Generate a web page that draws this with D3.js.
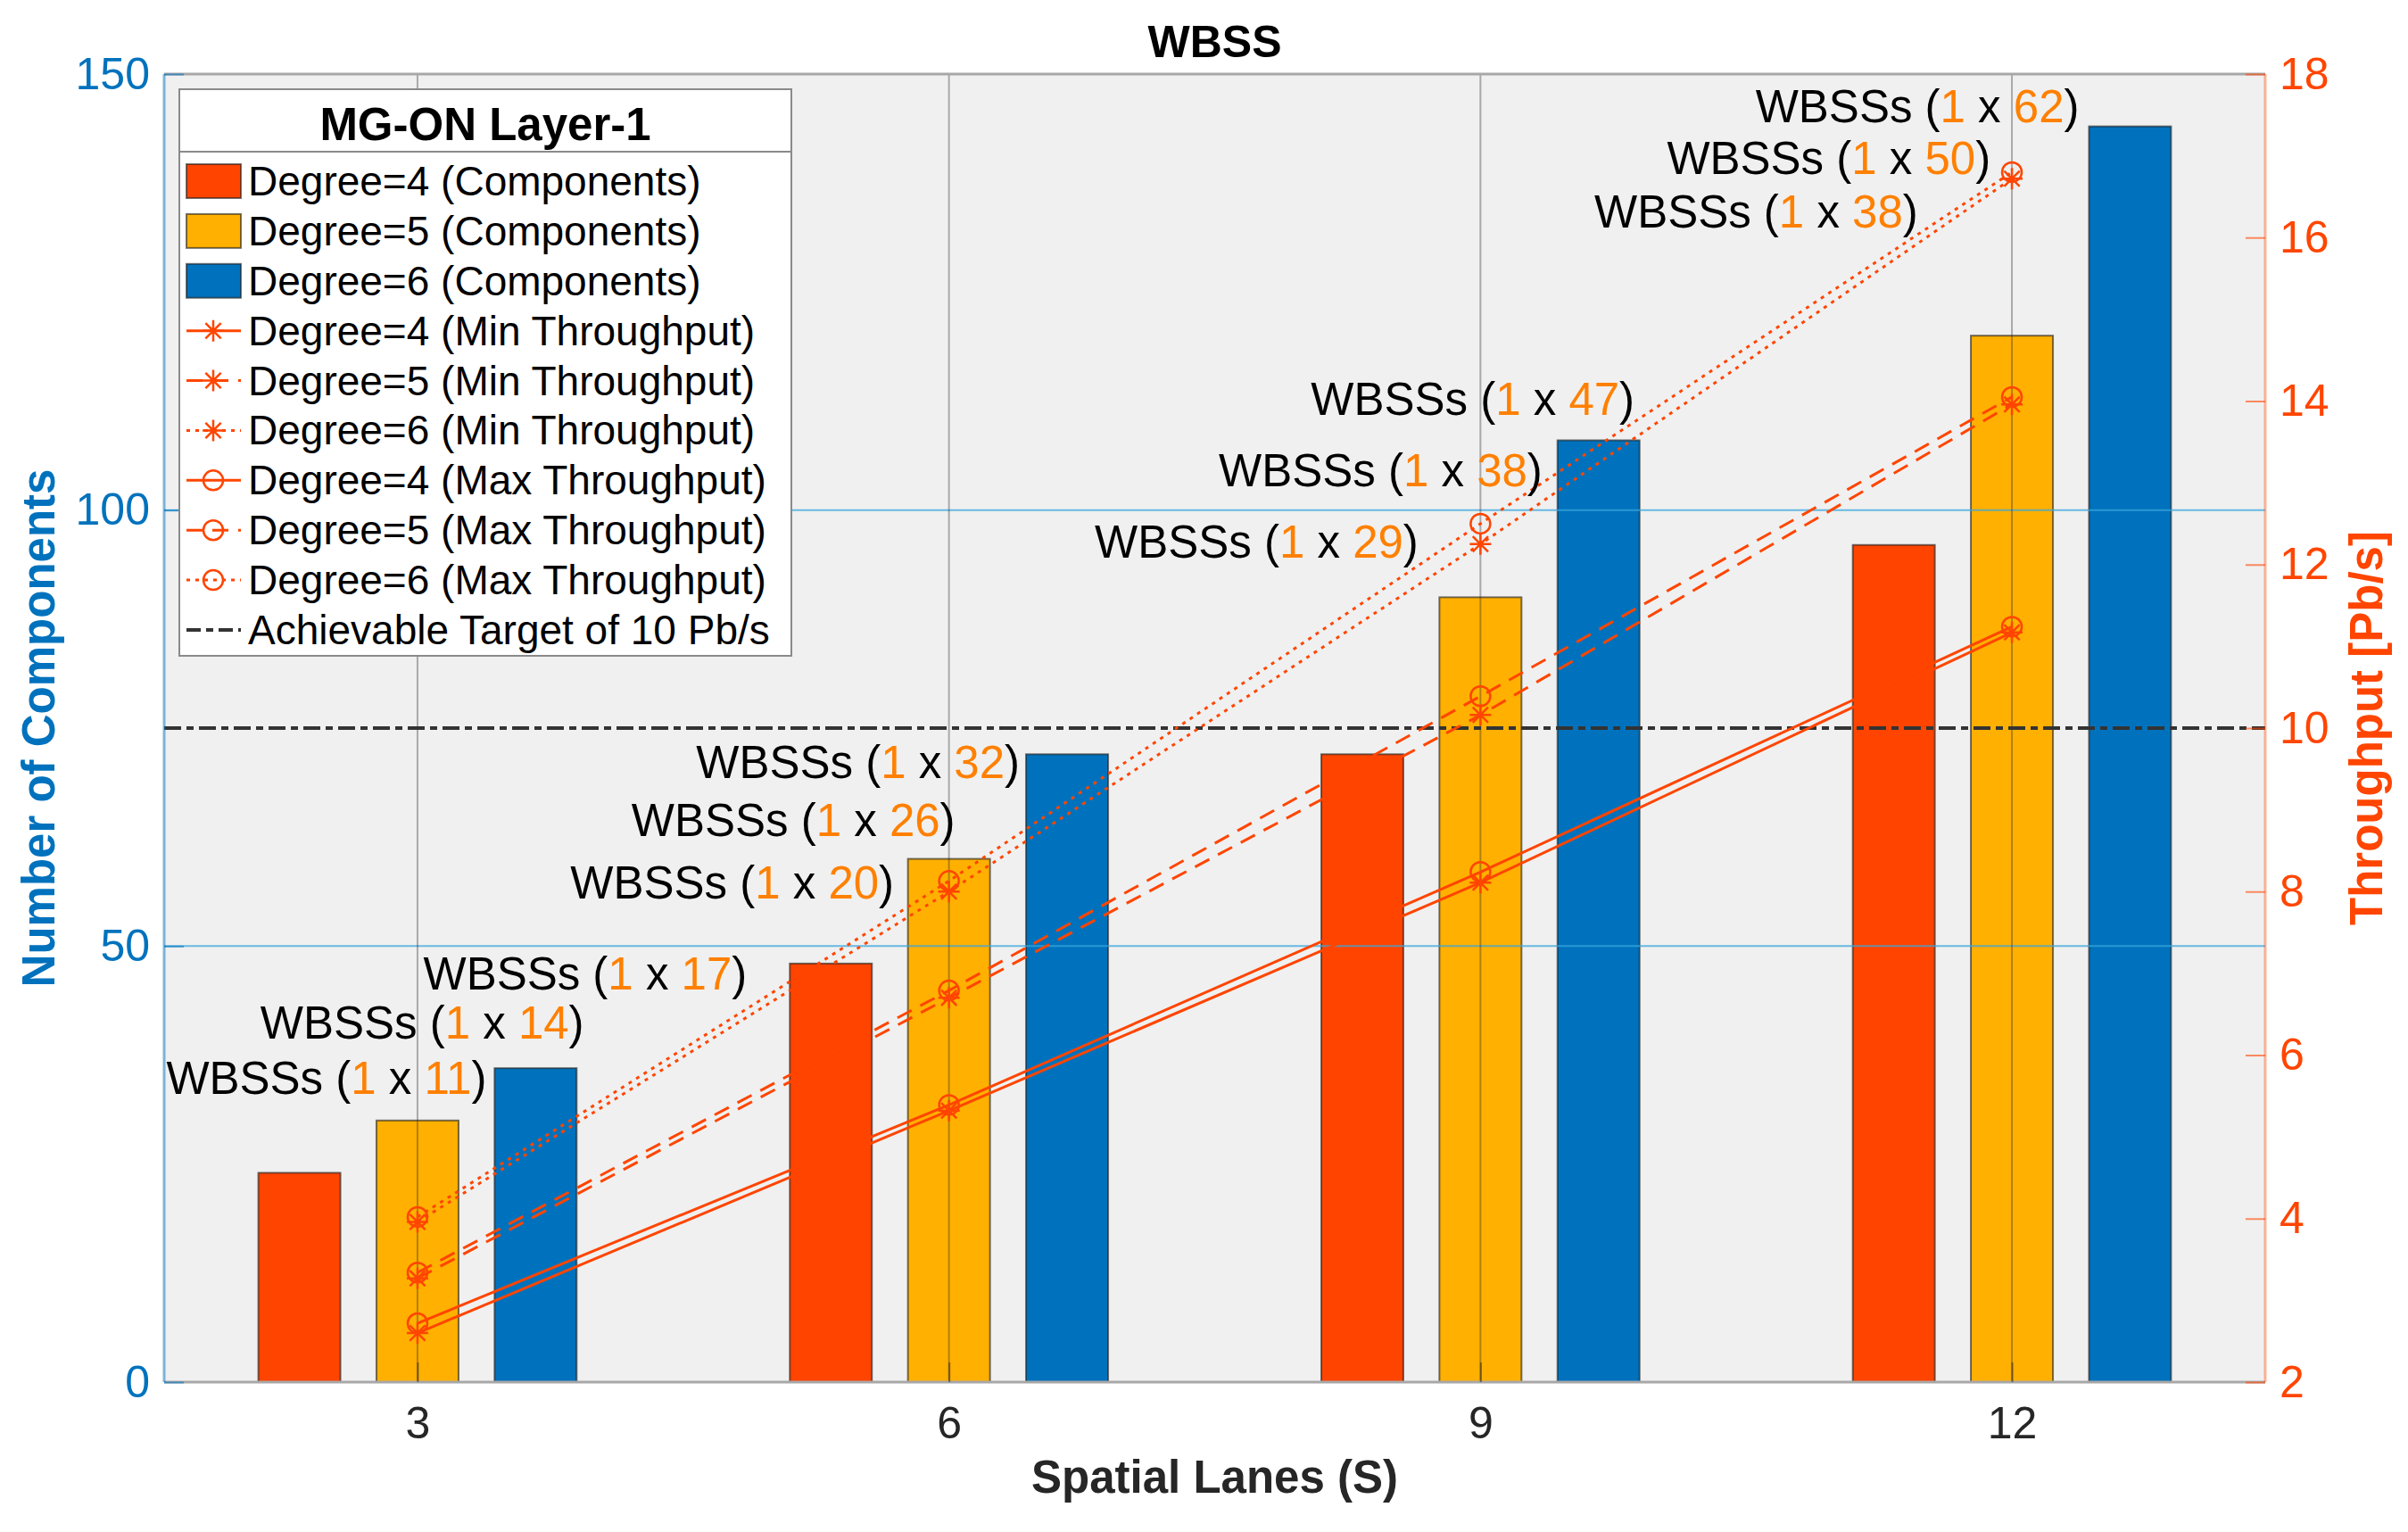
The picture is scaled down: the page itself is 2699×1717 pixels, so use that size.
<!DOCTYPE html>
<html>
<head>
<meta charset="utf-8">
<script src="https://cdn.jsdelivr.net/npm/d3@7"></script>
<style>
  body { margin: 0; background: #fff; }
  text { font-family: "Liberation Sans", Arial, Helvetica, sans-serif; }
</style>
</head>
<body>
<div id="chart"></div>
<script>
// ---- data ----
const lanes = [3, 6, 9, 12]
const degrees = [4, 5, 6]

// number of components (left axis)
const compDeg4 = [24, 48, 72, 96]
const compDeg5 = [30, 60, 90, 120]
const compDeg6 = [36, 72, 108, 144]

// throughput in Pb/s (right axis)
const minTpDeg4 = [2.60, 5.32, 8.11, 11.17]
const minTpDeg5 = [3.27, 6.70, 10.16, 13.96]
const minTpDeg6 = [3.96, 8.00, 12.25, 16.72]
const maxTpDeg4 = [2.72, 5.39, 8.24, 11.24]
const maxTpDeg5 = [3.34, 6.79, 10.39, 14.05]
const maxTpDeg6 = [4.02, 8.13, 12.50, 16.80]

const target = 10

// WBSS counts shown in the text notes (1 x n)
const wbssDeg4 = [11, 20, 29, 38]
const wbssDeg5 = [14, 26, 38, 50]
const wbssDeg6 = [17, 32, 47, 62]

const leftTicks = [0, 50, 100, 150]
const rightTicks = [2, 4, 6, 8, 10, 12, 14, 16, 18]

// where each note sits (right end, baseline) in data units: [lane units, components]
const noteAt = [
  [[3.39, 33.0], [5.69, 55.5], [8.65, 94.5], [11.47, 132.4]],
  [[3.94, 39.4], [6.035, 62.6], [9.35, 102.7], [11.88, 138.5]],
  [[4.86, 45.0], [6.40, 69.3], [9.87, 110.9], [12.38, 144.5]]
]

const params = {
  width: 2699,
  height: 1717,
  left: 184,
  right: 2539,
  top: 83,
  bottom: 1549,
}

const colors = { 4: '#FF4400', 5: '#FFB000', 6: '#0072BD' }
const lineColor = '#FF4500'
const noteColor = '#FF8000'
const leftColor = '#0072BD'
const rightColor = '#FF4500'
const dashes = { 4: null, 5: '18,11', 6: '4,6' }

const svg = d3.select('#chart')
  .append('svg')
  .attr('width', params.width)
  .attr('height', params.height)

// scales
const x = d3.scaleLinear().domain([1.57, 13.43]).range([params.left, params.right])
const yL = d3.scaleLinear().domain([0, 150]).range([params.bottom, params.top])
const yR = d3.scaleLinear().domain([2, 18]).range([params.bottom, params.top])
const xSub = d3.scaleBand().domain(degrees).range([-1, 1]).paddingInner(0.305).paddingOuter(0.1525)

// plot background
svg.append('rect')
  .attr('x', params.left)
  .attr('y', params.top)
  .attr('width', params.right - params.left)
  .attr('height', params.bottom - params.top)
  .attr('fill', '#f0f0f0')

// bars
const comps = { 4: compDeg4, 5: compDeg5, 6: compDeg6 }
const barW = x(xSub.bandwidth()) - x(0)
degrees.forEach(d => {
  svg.append('g').selectAll('rect')
    .data(comps[d])
    .enter()
    .append('rect')
    .attr('x', (v, i) => x(lanes[i] + xSub(d)))
    .attr('y', v => yL(v))
    .attr('width', barW)
    .attr('height', v => yL(0) - yL(v))
    .attr('fill', colors[d])
    .attr('stroke', '#1a1a1a')
    .attr('stroke-opacity', 0.6)
    .attr('stroke-width', 2)
})

// grid (drawn above the bars)
const grid = svg.append('g')
grid.selectAll('.hg')
  .data(leftTicks.slice(1, -1))
  .enter()
  .append('line')
  .attr('x1', params.left).attr('x2', params.right)
  .attr('y1', d => yL(d)).attr('y2', d => yL(d))
  .attr('stroke', '#3aa6dc')
  .attr('stroke-opacity', 0.75)
  .attr('stroke-width', 2)
grid.selectAll('.vg')
  .data(lanes)
  .enter()
  .append('line')
  .attr('x1', d => x(d)).attr('x2', d => x(d))
  .attr('y1', params.top).attr('y2', params.bottom)
  .attr('stroke', '#262626')
  .attr('stroke-opacity', 0.35)
  .attr('stroke-width', 2)

// achievable target line
svg.append('line')
  .attr('x1', params.left).attr('x2', params.right)
  .attr('y1', yR(target)).attr('y2', yR(target))
  .attr('stroke', '#333')
  .attr('stroke-width', 4)
  .attr('stroke-dasharray', '19,6,8,6')

// throughput lines
const tpSeries = [
  { deg: 4, kind: 'min', vals: minTpDeg4 },
  { deg: 5, kind: 'min', vals: minTpDeg5 },
  { deg: 6, kind: 'min', vals: minTpDeg6 },
  { deg: 4, kind: 'max', vals: maxTpDeg4 },
  { deg: 5, kind: 'max', vals: maxTpDeg5 },
  { deg: 6, kind: 'max', vals: maxTpDeg6 },
]

const line = d3.line().x((d, i) => x(lanes[i])).y(d => yR(d))

function asterisk(s) {
  const a = s * 0.72
  return `M0,${-s}V${s}M${-s},0H${s}M${-a},${-a}L${a},${a}M${-a},${a}L${a},${-a}`
}

function drawMarker(g, kind, cx, cy) {
  if (kind === 'min') {
    g.append('path')
      .attr('d', asterisk(12))
      .attr('transform', `translate(${cx},${cy})`)
      .attr('stroke', lineColor)
      .attr('stroke-width', 2.5)
      .attr('fill', 'none')
  } else {
    g.append('circle')
      .attr('cx', cx).attr('cy', cy).attr('r', 11)
      .attr('stroke', lineColor)
      .attr('stroke-width', 2.5)
      .attr('fill', 'none')
  }
}

const lines = svg.append('g')
tpSeries.forEach(s => {
  lines.append('path')
    .attr('d', line(s.vals))
    .attr('fill', 'none')
    .attr('stroke', lineColor)
    .attr('stroke-width', 3)
    .attr('stroke-dasharray', dashes[s.deg])
  s.vals.forEach((v, i) => drawMarker(lines, s.kind, x(lanes[i]), yR(v)))
})

// notes "WBSSs (1 x n)"
const wbss = [wbssDeg4, wbssDeg5, wbssDeg6]
const notes = svg.append('g')
wbss.forEach((arr, k) => {
  arr.forEach((n, i) => {
    const [nx, ny] = noteAt[k][i]
    const t = notes.append('text')
      .attr('x', x(nx))
      .attr('y', yL(ny))
      .attr('text-anchor', 'end')
      .attr('font-size', 51)
      .attr('fill', '#000')
    t.append('tspan').text('WBSSs (')
    t.append('tspan').attr('fill', noteColor).text('1')
    t.append('tspan').text(' x ')
    t.append('tspan').attr('fill', noteColor).text(n)
    t.append('tspan').text(')')
  })
})

// axes box
svg.append('line')
  .attr('x1', params.left).attr('x2', params.right)
  .attr('y1', params.top).attr('y2', params.top)
  .attr('stroke', '#a8a8a8').attr('stroke-width', 3)
svg.append('line')
  .attr('x1', params.left).attr('x2', params.right)
  .attr('y1', params.bottom).attr('y2', params.bottom)
  .attr('stroke', '#a8a8a8').attr('stroke-width', 3)
svg.append('line')
  .attr('x1', params.left).attr('x2', params.left)
  .attr('y1', params.top).attr('y2', params.bottom)
  .attr('stroke', leftColor).attr('stroke-opacity', 0.5).attr('stroke-width', 3)
svg.append('line')
  .attr('x1', params.right).attr('x2', params.right)
  .attr('y1', params.top).attr('y2', params.bottom)
  .attr('stroke', rightColor).attr('stroke-opacity', 0.4).attr('stroke-width', 3)

// left axis
const axL = svg.append('g')
  .attr('transform', `translate(${params.left},0)`)
  .call(d3.axisLeft(yL).tickValues(leftTicks).tickSizeInner(-22).tickSizeOuter(0).tickPadding(16))
axL.select('.domain').remove()
axL.selectAll('line').attr('stroke', leftColor).attr('stroke-opacity', 0.6).attr('stroke-width', 2)
axL.selectAll('text').attr('fill', leftColor).attr('font-size', 50)
  .attr('font-family', '"Liberation Sans", Arial, sans-serif')

// right axis
const axR = svg.append('g')
  .attr('transform', `translate(${params.right},0)`)
  .call(d3.axisRight(yR).tickValues(rightTicks).tickSizeInner(-22).tickSizeOuter(0).tickPadding(16))
axR.select('.domain').remove()
axR.selectAll('line').attr('stroke', rightColor).attr('stroke-opacity', 0.6).attr('stroke-width', 2)
axR.selectAll('text').attr('fill', rightColor).attr('font-size', 50)
  .attr('font-family', '"Liberation Sans", Arial, sans-serif')

// bottom axis
const axB = svg.append('g')
  .attr('transform', `translate(0,${params.bottom})`)
  .call(d3.axisBottom(x).tickValues(lanes).tickSizeInner(-22).tickSizeOuter(0).tickPadding(27))
axB.select('.domain').remove()
axB.selectAll('line').attr('stroke', '#262626').attr('stroke-opacity', 0.5).attr('stroke-width', 2)
axB.selectAll('text').attr('fill', '#262626').attr('font-size', 50)
  .attr('font-family', '"Liberation Sans", Arial, sans-serif')

// titles
svg.append('text')
  .attr('x', (params.left + params.right) / 2)
  .attr('y', 64)
  .attr('text-anchor', 'middle')
  .attr('font-size', 50)
  .attr('font-weight', 'bold')
  .text('WBSS')

svg.append('text')
  .attr('x', (params.left + params.right) / 2)
  .attr('y', 1673)
  .attr('text-anchor', 'middle')
  .attr('font-size', 51)
  .attr('font-weight', 'bold')
  .attr('fill', '#262626')
  .text('Spatial Lanes (S)')

svg.append('text')
  .attr('transform', `translate(61,${(params.top + params.bottom) / 2}) rotate(-90)`)
  .attr('text-anchor', 'middle')
  .attr('font-size', 51)
  .attr('font-weight', 'bold')
  .attr('fill', leftColor)
  .text('Number of Components')

svg.append('text')
  .attr('transform', `translate(2670,${(params.top + params.bottom) / 2}) rotate(-90)`)
  .attr('text-anchor', 'middle')
  .attr('font-size', 51)
  .attr('font-weight', 'bold')
  .attr('fill', rightColor)
  .text('Throughput [Pb/s]')

// legend
const legendItems = [
  ...degrees.map(d => ({ type: 'bar', deg: d, label: `Degree=${d} (Components)` })),
  ...degrees.map(d => ({ type: 'min', deg: d, label: `Degree=${d} (Min Throughput)` })),
  ...degrees.map(d => ({ type: 'max', deg: d, label: `Degree=${d} (Max Throughput)` })),
  { type: 'target', label: 'Achievable Target of 10 Pb/s' },
]

const lg = svg.append('g')
lg.append('rect')
  .attr('x', 201).attr('y', 100)
  .attr('width', 686).attr('height', 635)
  .attr('fill', '#fff')
  .attr('stroke', '#8a8a8a')
  .attr('stroke-width', 2)
lg.append('line')
  .attr('x1', 201).attr('x2', 887)
  .attr('y1', 170).attr('y2', 170)
  .attr('stroke', '#8a8a8a').attr('stroke-width', 2)
lg.append('text')
  .attr('x', 544).attr('y', 157)
  .attr('text-anchor', 'middle')
  .attr('font-size', 51)
  .attr('font-weight', 'bold')
  .text('MG-ON Layer-1')

const rowY = d3.scalePoint().domain(d3.range(legendItems.length)).range([203, 706])

legendItems.forEach((it, i) => {
  const cy = rowY(i)
  if (it.type === 'bar') {
    lg.append('rect')
      .attr('x', 209).attr('y', cy - 19)
      .attr('width', 61).attr('height', 38)
      .attr('fill', colors[it.deg])
      .attr('stroke', '#1a1a1a').attr('stroke-opacity', 0.6).attr('stroke-width', 2)
  } else if (it.type === 'target') {
    lg.append('line')
      .attr('x1', 209).attr('x2', 270)
      .attr('y1', cy).attr('y2', cy)
      .attr('stroke', '#333').attr('stroke-width', 4)
      .attr('stroke-dasharray', '16,6,8,6')
  } else {
    lg.append('line')
      .attr('x1', 209).attr('x2', 270)
      .attr('y1', cy).attr('y2', cy)
      .attr('stroke', lineColor).attr('stroke-width', 3)
      .attr('stroke-dasharray', dashes[it.deg])
    drawMarker(lg, it.type, 239, cy)
  }
  lg.append('text')
    .attr('x', 278).attr('y', cy + 16)
    .attr('font-size', 46)
    .text(it.label)
})
</script>
</body>
</html>
